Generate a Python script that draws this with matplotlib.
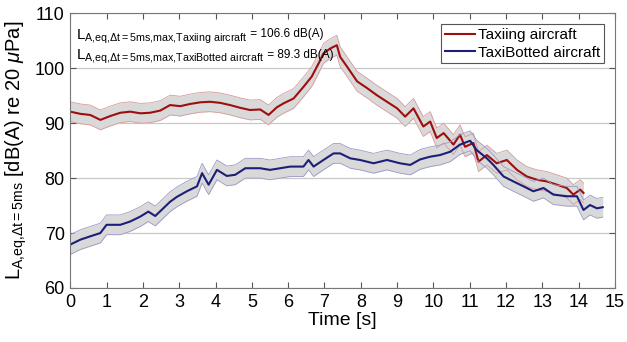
import matplotlib
matplotlib.use("Agg")
import matplotlib.pyplot as plt
import numpy as np

plt.rcParams['font.family'] = ['Liberation Sans', 'DejaVu Sans']
plt.rcParams['mathtext.fontset'] = 'custom'
plt.rcParams['mathtext.rm'] = 'Liberation Sans'
plt.rcParams['mathtext.it'] = 'Liberation Sans:italic'
plt.rcParams['mathtext.default'] = 'regular'

# Taxiing aircraft (red)
t_taxi = [0.0, 0.28, 0.55, 0.83, 1.1, 1.38, 1.65, 1.93, 2.2, 2.48, 2.75, 3.03, 3.3, 3.58,
          3.85, 4.13, 4.4, 4.68, 4.95, 5.23, 5.46, 5.69, 5.87, 6.15, 6.42, 6.65, 6.84,
          6.97, 7.16, 7.34, 7.43, 7.62, 7.9, 8.17, 8.44, 8.72, 9.0, 9.22, 9.45, 9.72,
          9.91, 10.09, 10.28, 10.55, 10.73, 10.87, 11.1, 11.24, 11.47, 11.74, 12.02,
          12.3, 12.57, 12.85, 13.12, 13.4, 13.67, 13.85, 14.04, 14.13]
L_taxi = [92.1, 91.7, 91.5, 90.6, 91.3, 91.9, 92.1, 91.8, 91.9, 92.3, 93.3, 93.1, 93.5, 93.8,
          93.9, 93.7, 93.3, 92.8, 92.4, 92.5, 91.5, 92.9, 93.6, 94.5, 96.6, 98.5, 100.9,
          102.7, 103.6, 104.2, 102.1, 100.3, 97.6, 96.4, 95.1, 93.9, 92.7, 91.2, 92.7, 89.4,
          90.3, 87.3, 88.2, 86.1, 87.9, 85.7, 86.4, 83.0, 84.2, 82.7, 83.3,
          81.5, 80.3, 79.7, 79.4, 78.8, 78.2, 77.0, 77.9, 77.3]

# TaxiBotted aircraft (blue)
t_bot = [0.0, 0.28, 0.55, 0.83, 1.0, 1.38, 1.65, 1.93, 2.15, 2.34, 2.75, 2.94, 3.21, 3.49,
         3.63, 3.81, 4.04, 4.31, 4.54, 4.82, 4.95, 5.23, 5.5, 5.78, 6.06, 6.42, 6.56, 6.7,
         6.97, 7.25, 7.43, 7.71, 7.98, 8.35, 8.72, 9.08, 9.36, 9.63, 9.91, 10.18, 10.46,
         10.73, 11.01, 11.19, 11.47, 11.65, 11.93, 12.2, 12.48, 12.75, 13.03, 13.3, 13.67,
         13.95, 14.13, 14.31, 14.5, 14.66]
L_bot = [67.9, 68.8, 69.4, 70.0, 71.5, 71.5, 72.1, 73.0, 73.9, 73.1, 75.7, 76.6, 77.6, 78.5,
         80.9, 78.8, 81.5, 80.4, 80.6, 81.8, 81.8, 81.8, 81.5, 81.8, 82.1, 82.1, 83.3, 82.1,
         83.3, 84.5, 84.5, 83.6, 83.3, 82.7, 83.3, 82.7, 82.4, 83.4, 83.9, 84.2, 84.8,
         86.1, 86.8, 85.1, 83.6, 82.4, 80.3, 79.4, 78.5, 77.6, 78.2, 77.0, 76.7,
         76.7, 74.2, 75.1, 74.5, 74.7]

band = 1.8  # half width of the shaded band, dB

red = '#a00d0d'
navy = '#1c1f7a'

fig = plt.figure(figsize=(6.27, 3.42), dpi=100)
ax = fig.add_axes([0.112, 0.158, 0.869, 0.803])

for t, L, c, edge, lab in [(t_taxi, L_taxi, red, '#d89a9a', 'Taxiing aircraft'),
                           (t_bot, L_bot, navy, '#9a9ac8', 'TaxiBotted aircraft')]:
    t = np.array(t)
    L = np.array(L)
    ax.fill_between(t, L - band, L + band, color='#d9d9d9', lw=0)
    ax.plot(t, L + band, color=edge, lw=0.6)
    ax.plot(t, L - band, color=edge, lw=0.6)
    ax.plot(t, L, color=c, lw=1.5, label=lab)

ax.set_xlim(0, 15)
ax.set_ylim(60, 110)
ax.set_xticks(range(0, 16))
ax.set_yticks(range(60, 111, 10))
ax.yaxis.grid(True, color='#c8c8c8', lw=0.9)
ax.set_axisbelow(True)
ax.tick_params(direction='in', top=True, right=True, labelsize=13, length=4,
               color='#555555', pad=4)
for s in ax.spines.values():
    s.set_color('#777777')

ax.set_xlabel('Time [s]', fontsize=14, labelpad=1)
ax.set_ylabel(r'$L_{A{,}eq{,}\Delta t{=}5ms}$ [dB(A) re 20 $\mathit{\mu}$Pa]', fontsize=14.5, labelpad=4)

names = [r'$L_{A{,}eq{,}\Delta t{=}5ms{,}max{,}Taxiing\ aircraft}$',
         r'$L_{A{,}eq{,}\Delta t{=}5ms{,}max{,}TaxiBotted\ aircraft}$']
values = ['= 106.6 dB(A)', '= 89.3 dB(A)']
for yy, nm, val in zip([0.915, 0.84], names, values):
    lab = ax.text(0.01, yy, nm, transform=ax.transAxes, fontsize=11, va='center', ha='left')
    ax.annotate(' ' + val, xy=(1.0, 0.62), xycoords=lab, fontsize=8.5, va='center', ha='left')

leg = ax.legend(loc='upper right', fontsize=11, fancybox=False, framealpha=1,
                edgecolor='#555555', handlelength=2.0, borderaxespad=0.7,
                handletextpad=0.2, labelspacing=0.25, borderpad=0.25)
leg.get_frame().set_linewidth(0.8)

fig.savefig('out.png', dpi=100)
